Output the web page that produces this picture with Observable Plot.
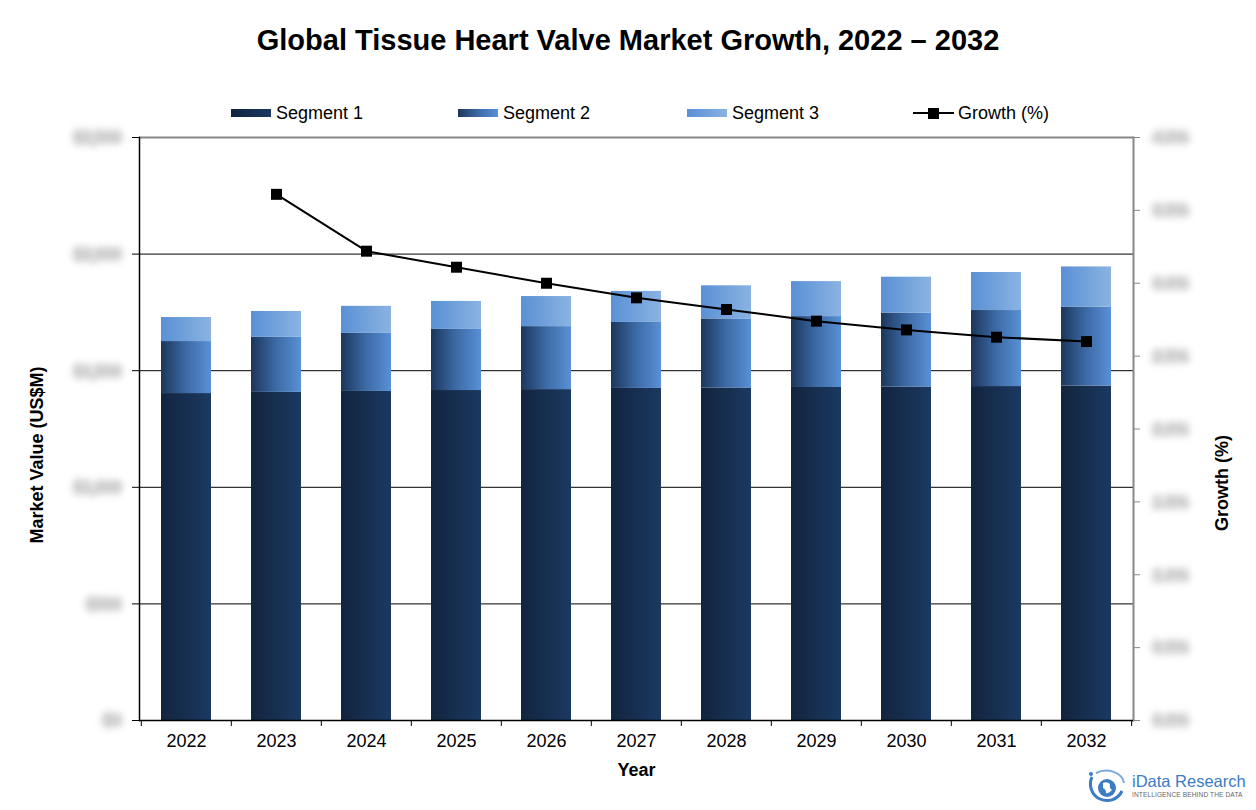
<!DOCTYPE html>
<html>
<head>
<meta charset="utf-8">
<script src="https://cdn.jsdelivr.net/npm/d3@7"></script>
<script src="https://cdn.jsdelivr.net/npm/@observablehq/plot@0.6"></script>
<style>
  body { margin: 0; background: #fff; font-family: "Liberation Sans", Arial, sans-serif; width: 1256px; height: 810px; overflow: hidden; position: relative; }
  #header { position: relative; height: 130px; }
  #title { position: absolute; top: 23px; left: 0; width: 1256px; text-align: center; font-size: 29px; line-height: 34px; font-weight: bold; color: #000; }
  .leg { position: absolute; top: 103px; height: 20px; font-size: 18px; line-height: 20px; display: flex; align-items: center; color: #000; }
  .sw { width: 40px; height: 8px; margin-right: 5px; }
  .gl { position: relative; width: 41px; height: 20px; margin-right: 4px; }
  .gl .ln { position: absolute; left: 0; top: 9px; width: 41px; height: 2px; background: #000; }
  .gl .mk { position: absolute; left: 15px; top: 5px; width: 11px; height: 11px; background: #000; }
  #logo { position: absolute; left: 1086px; top: 769px; width: 170px; height: 36px; }
  #logo .name { position: absolute; left: 46px; top: 3px; font-size: 16.5px; color: #3b7cc4; white-space: nowrap; }
  #logo .tag { position: absolute; left: 46px; top: 22px; font-size: 6.6px; color: #666; white-space: nowrap; letter-spacing: 0.1px; }
  text.blurred { filter: blur(3px); }
</style>
</head>
<body>
<div id="header">
  <div id="title">Global Tissue Heart Valve Market Growth, 2022 – 2032</div>
  <div class="leg" style="left:231px"><div class="sw" style="background:linear-gradient(to right,#12243e,#1b3961)"></div>Segment 1</div>
  <div class="leg" style="left:458px"><div class="sw" style="background:linear-gradient(to right,#1c365c,#3c6aa5,#5990d6)"></div>Segment 2</div>
  <div class="leg" style="left:687px"><div class="sw" style="background:linear-gradient(to right,#5a90d5,#8ab3e1)"></div>Segment 3</div>
  <div class="leg" style="left:913px"><div class="gl"><div class="ln"></div><div class="mk"></div></div>Growth (%)</div>
</div>
<div id="chart"></div>
<div id="logo">
  <svg width="40" height="36" viewBox="0 0 40 36">
    <path d="M6 8 A 16 16 0 1 0 36 22" fill="none" stroke="#3b7cc4" stroke-width="3"/>
    <path d="M10 4 A 18 14 0 0 1 38 14" fill="none" stroke="#7fa9dc" stroke-width="2"/>
    <circle cx="21" cy="19" r="9" fill="#3b7cc4"/>
    <path d="M17 14 q4 -2 7 1 q-1 4 2 6 q-3 4 -6 3 q0 -4 -3 -5 z" fill="#fff"/>
    <circle cx="5" cy="5" r="2" fill="#3b7cc4"/>
  </svg>
  <div class="name">iData Research</div>
  <div class="tag">INTELLIGENCE BEHIND THE DATA</div>
</div>
<script>
// ---- data ----
const years = ["2022","2023","2024","2025","2026","2027","2028","2029","2030","2031","2032"];
const segments = ["Segment 1","Segment 2","Segment 3"];
const segment1 = [1402,1407,1411,1415,1419,1424,1426,1428,1430,1432,1434];
const segment2 = [223,236,249,262,270,283,296,304,317,326,339];
const segment3 = [103,111,116,120,129,133,142,150,154,163,172];
const growthYears = ["2023","2024","2025","2026","2027","2028","2029","2030","2031","2032"];
const growth = [3.61,3.22,3.11,3.00,2.90,2.82,2.74,2.68,2.63,2.60];
const valueTicks = [0,500,1000,1500,2000,2500];
const valueTickLabels = ["$0","$500","$1,000","$1,500","$2,000","$2,500"];
const growthTicks = [0,0.5,1,1.5,2,2.5,3,3.5,4];
const growthTickLabels = ["0.0%","0.5%","1.0%","1.5%","2.0%","2.5%","3.0%","3.5%","4.0%"];

// ---- build tables ----
const valueMax = valueTicks[valueTicks.length - 1];
const growthMax = growthTicks[growthTicks.length - 1];
const k = valueMax / growthMax;
const segValues = [segment1, segment2, segment3];
const bars = years.flatMap((yr, i) => segments.map((s, j) => ({year: yr, segment: s, value: segValues[j][i]})));
const growthData = growthYears.map((yr, i) => ({year: yr, g: growth[i]}));

const W = 1256, H = 680, ML = 139, MR = 123, MT = 7, MB = 90;
const step = (W - ML - MR) / years.length;

const chart = Plot.plot({
  width: W, height: H,
  marginLeft: ML, marginRight: MR, marginTop: MT, marginBottom: MB,
  style: {fontFamily: "Liberation Sans, Arial, sans-serif", background: "white", overflow: "visible", color: "#000"},
  x: {type: "band", domain: years, paddingInner: 0.447, paddingOuter: 0.2235, label: null},
  y: {domain: [0, valueMax], label: null},
  color: {type: "ordinal", domain: segments, range: ["url(#g1)", "url(#g2)", "url(#g3)"]},
  marks: [
    Plot.ruleY(valueTicks.slice(1, -1), {stroke: "#000", strokeWidth: 1}),
    Plot.barY(bars, {x: "year", y: "value", fill: "segment"}),
    Plot.ruleY([valueMax], {stroke: "#888", strokeWidth: 2}),
    Plot.frame({anchor: "right", stroke: "#888", strokeWidth: 2}),
    Plot.frame({anchor: "left", stroke: "#000", strokeWidth: 1.5}),
    Plot.ruleY([0], {stroke: "#000", strokeWidth: 1.5}),
    Plot.axisY({anchor: "left", ticks: valueTicks, tickFormat: d => valueTickLabels[valueTicks.indexOf(d)],
      tickSize: 7, tickPadding: 12, fontSize: 15, fontWeight: "bold", fill: "#bdbdbd", stroke: "#000", label: null}),
    Plot.axisY({anchor: "right", ticks: growthTicks.map(g => g * k),
      tickFormat: d => growthTickLabels[growthTicks.indexOf(d / k)] ?? "",
      tickSize: 6, tickPadding: 14, fontSize: 15, fontWeight: "bold", fill: "#bdbdbd", stroke: "#888", label: null}),
    Plot.axisX({tickSize: 0, tickPadding: 14, fontSize: 18, label: null}),
    Plot.axisX({tickSize: 6, tickFormat: () => "", dx: -step / 2, label: null}),
    Plot.axisX({ticks: [years[years.length - 1]], tickSize: 6, tickFormat: () => "", dx: step / 2, label: null}),
    Plot.line(growthData, {x: "year", y: d => d.g * k, stroke: "#000", strokeWidth: 2}),
    Plot.dot(growthData, {x: "year", y: d => d.g * k, symbol: "square", r: 6.2, fill: "#000", stroke: "none"}),
    Plot.text(["Market Value (US$M)"], {text: d => d, frameAnchor: "left", textAnchor: "middle", rotate: -90, dx: -102, dy: 26, fontSize: 18, fontWeight: "bold"}),
    Plot.text(["Growth (%)"], {text: d => d, frameAnchor: "right", textAnchor: "middle", rotate: -90, dx: 89, dy: 54, fontSize: 18, fontWeight: "bold"}),
    Plot.text(["Year"], {text: d => d, frameAnchor: "bottom", lineAnchor: "middle", dy: 50, fontSize: 18, fontWeight: "bold"})
  ]
});

const svg = d3.select(chart);
const defs = svg.insert("defs", ":first-child");
function grad(id, stops) {
  const g = defs.append("linearGradient").attr("id", id).attr("x1", 0).attr("y1", 0).attr("x2", 1).attr("y2", 0);
  stops.forEach(([o, c]) => g.append("stop").attr("offset", o).attr("stop-color", c));
}
grad("g1", [[0, "#12243e"], [1, "#1b3961"]]);
grad("g2", [[0, "#1c365c"], [0.5, "#3c6aa5"], [1, "#5990d6"]]);
grad("g3", [[0, "#5a90d5"], [1, "#8ab3e1"]]);

// soft grey "blurred" look of the value / growth tick labels, as in the reference
const blurSet = new Set([...valueTickLabels, ...growthTickLabels]);
svg.selectAll("text").filter(function() { return blurSet.has(this.textContent); })
  .classed("blurred", true)
  .attr("stroke", "#e3e3e3").attr("stroke-width", 7).attr("stroke-linejoin", "round")
  .attr("paint-order", "stroke");

document.getElementById("chart").appendChild(chart);
</script>
</body>
</html>
